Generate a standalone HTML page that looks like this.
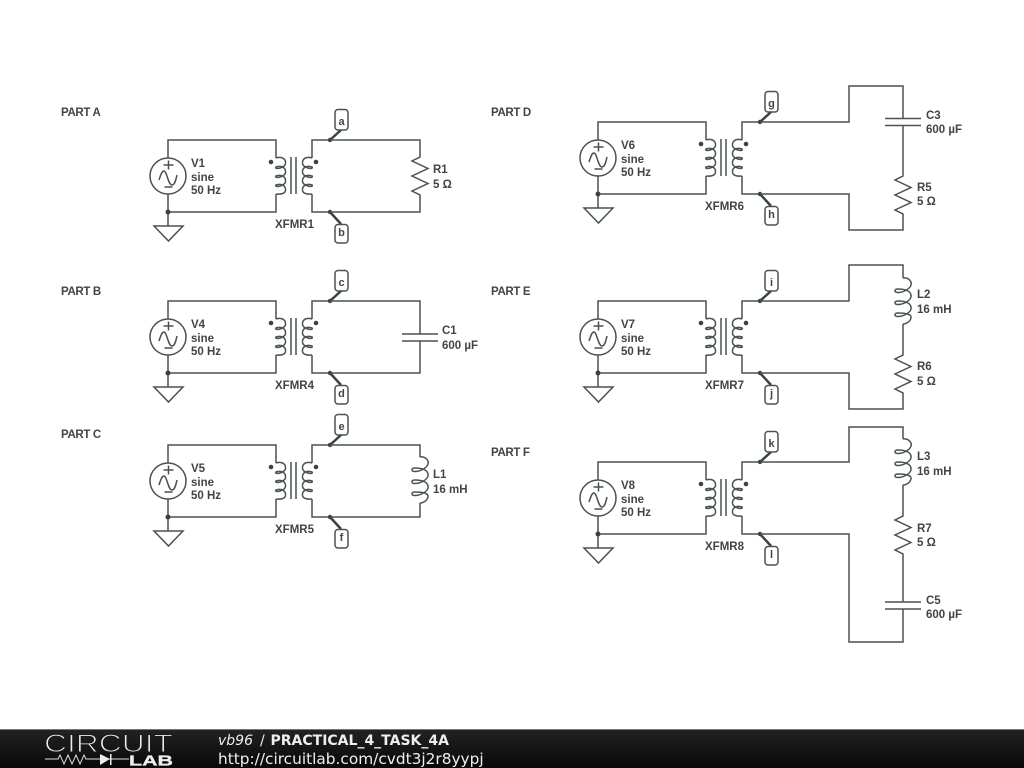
<!DOCTYPE html>
<html><head><meta charset="utf-8"><style>
html,body{margin:0;padding:0;background:#fff;width:1024px;height:768px;overflow:hidden}
svg{display:block}
.w{fill:none;stroke:#4a5254;stroke-width:1.5}
.t text{font:bold 11.500px "Liberation Sans",sans-serif;fill:#444}
.p text{font:bold 11.500px "Liberation Sans",sans-serif;fill:#444;letter-spacing:-.35px}
.n{font:bold 11px "Liberation Sans",sans-serif;fill:#444;text-anchor:middle}
</style></head><body>
<svg width="1024" height="768" viewBox="0 0 1024 768">
<defs>
<linearGradient id="bar" x1="0" y1="0" x2="0" y2="1"><stop offset="0" stop-color="#232323"/><stop offset="1" stop-color="#080808"/></linearGradient>
<g id="res"><path class="w" d="M0 0v2l-8 4l16 7.500l-16 7.500l16 7.500l-16 7.500l8 4v2"/></g>
<g id="ind"><path class="w" d="M0 0C6-1 9 4 8 7C7 11 0 14.500-5 14.500C-9 14.500-9 11-5 11C2 11 9 13 8 19C7 23 0 26.500-5 26.500C-9 26.500-9 23-5 23C2 23 9 25 8 31C7 35 0 38.500-5 38.500C-9 38.500-9 35-5 35C2 35 9 36 8 40C7 44 3 46 0 46"/></g>
<g id="coil"><path class="w" d="M0 0c6-2 10 1 9.500 5.500c-.5 3.500-6 5-8.500 5c-1.500 0-1.500-1.500-1-1.500c6-2 10 1 9.500 5.500c-.5 3.500-6 5-8.500 5c-1.500 0-1.500-1.500-1-1.500c6-2 10 1 9.500 5.500c-.5 3.500-6 5-8.500 5c-1.500 0-1.500-1.500-1-1.500c6-2 10 1 9.500 5.500c-.5 3.500-6 4-9.500 3.500"/></g>
<g id="cap"><path class="w" d="M-18 0h36M-18 7h36"/></g>
<g id="base">
<path class="w" d="M168 158V140H276V158M168 194V212H276V194M168 212V226M154 226H183L168.500 241Z"/>
<circle class="w" cx="168" cy="176" r="18"/>
<path class="w" d="M159 180C161 174 162 171 164 171C167 171 168 185 172 185C175 185 176 179 177 175M168.500 160.500v9M163.500 165h10M164.500 187h8"/>
<circle cx="168" cy="212" r="2.500" fill="#3a4244"/>
<path class="w" d="M291 157V194M296 157V194"/>
<use href="#coil" x="276" y="158"/>
<use href="#coil" transform="translate(312 158) scale(-1 1)"/>
<circle cx="271" cy="162" r="2.300" fill="#3a4244"/>
<circle cx="316" cy="162" r="2.300" fill="#3a4244"/>
<path class="w" d="M312 158V140H330M312 194V212H330"/>
<circle cx="330" cy="140" r="2.200" fill="#3a4244"/>
<circle cx="330" cy="212" r="2.200" fill="#3a4244"/>
<path fill="none" stroke="#3a4244" stroke-width="2.500" d="M330 140L341 130M330 212L341 224"/>
<rect class="w" x="335" y="109.500" width="13" height="20.500" rx="3" fill="#fff"/>
<rect class="w" x="335" y="224.500" width="13" height="18.500" rx="3" fill="#fff"/>
</g>
</defs>

<g class="p">
<text x="61" y="116">PART A</text>
<text x="61" y="295">PART B</text>
<text x="61" y="438">PART C</text>
<text x="491" y="116">PART D</text>
<text x="491" y="295">PART E</text>
<text x="491" y="456">PART F</text>
</g>

<!-- Part A -->
<use href="#base"/>
<path class="w" d="M330 140H420V155M330 212H420V197"/>
<use href="#res" x="420" y="155"/>
<g class="t"><text x="191" y="167">V1</text><text x="191" y="181">sine</text><text x="191" y="194">50 Hz</text><text x="275" y="228">XFMR1</text><text x="433" y="173">R1</text><text x="433" y="188">5 Ω</text></g>
<text class="n" x="341.500" y="125">a</text><text class="n" x="341.500" y="236">b</text>

<!-- Part B -->
<g transform="translate(0 161)"><use href="#base"/>
<path class="w" d="M330 140H420V173M330 212H420V180"/>
<use href="#cap" x="420" y="173"/>
<g class="t"><text x="191" y="167">V4</text><text x="191" y="181">sine</text><text x="191" y="194">50 Hz</text><text x="275" y="228">XFMR4</text><text x="442" y="173">C1</text><text x="442" y="188">600 µF</text></g>
<text class="n" x="341.500" y="125">c</text><text class="n" x="341.500" y="236">d</text></g>

<!-- Part C -->
<g transform="translate(0 305)"><use href="#base"/>
<path class="w" d="M330 140H420V152M330 212H420V198"/>
<use href="#ind" x="420" y="152"/>
<g class="t"><text x="191" y="167">V5</text><text x="191" y="181">sine</text><text x="191" y="194">50 Hz</text><text x="275" y="228">XFMR5</text><text x="433" y="173">L1</text><text x="433" y="188">16 mH</text></g>
<text class="n" x="341.500" y="125">e</text><text class="n" x="341.500" y="236">f</text></g>

<!-- Part D -->
<g transform="translate(430 -18)"><use href="#base"/>
<g class="t"><text x="191" y="167">V6</text><text x="191" y="181">sine</text><text x="191" y="194">50 Hz</text><text x="275" y="228">XFMR6</text></g>
<text class="n" x="341.500" y="125">g</text><text class="n" x="341.500" y="236">h</text></g>
<path class="w" d="M760 122H849V86H903V118.500M903 125.500V174M760 194H849V230H903V216"/>
<use href="#cap" x="903" y="118.500"/>
<use href="#res" x="903" y="174"/>
<g class="t"><text x="926" y="119">C3</text><text x="926" y="133">600 µF</text><text x="917" y="191">R5</text><text x="917" y="205">5 Ω</text></g>

<!-- Part E -->
<g transform="translate(430 161)"><use href="#base"/>
<g class="t"><text x="191" y="167">V7</text><text x="191" y="181">sine</text><text x="191" y="194">50 Hz</text><text x="275" y="228">XFMR7</text></g>
<text class="n" x="341.500" y="125">i</text><text class="n" x="341.500" y="236">j</text></g>
<path class="w" d="M760 301H849V265H903V278M903 324V353M760 373H849V409H903V395"/>
<use href="#ind" x="903" y="278"/>
<use href="#res" x="903" y="353"/>
<g class="t"><text x="917" y="298">L2</text><text x="917" y="313">16 mH</text><text x="917" y="370">R6</text><text x="917" y="385">5 Ω</text></g>

<!-- Part F -->
<g transform="translate(430 322)"><use href="#base"/>
<g class="t"><text x="191" y="167">V8</text><text x="191" y="181">sine</text><text x="191" y="194">50 Hz</text><text x="275" y="228">XFMR8</text></g>
<text class="n" x="341.500" y="125">k</text><text class="n" x="341.500" y="236">l</text></g>
<path class="w" d="M760 462H849V427H903V439M903 485V514M760 534H849V642H903V609M903 556V602"/>
<use href="#ind" x="903" y="439"/>
<use href="#res" x="903" y="514"/>
<use href="#cap" x="903" y="602"/>
<g class="t"><text x="917" y="460">L3</text><text x="917" y="475">16 mH</text><text x="917" y="532">R7</text><text x="917" y="546">5 Ω</text><text x="926" y="604">C5</text><text x="926" y="618">600 µF</text></g>

<!-- Footer -->
<rect x="0" y="729" width="1024" height="39" fill="url(#bar)"/>
<rect x="0" y="729" width="1024" height="1" fill="#777"/>
<text x="44" y="752" font-family="Liberation Sans, sans-serif" font-size="25" fill="#eee" stroke="#1b1b1b" stroke-width="1.100" textLength="129" lengthAdjust="spacingAndGlyphs">CIRCUIT</text>
<path fill="none" stroke="#ddd" stroke-width="1" d="M45 759H58l2-4 4 9 4-9 4 9 4-9 4 9 4-9 2 4H129"/>
<path fill="#eee" d="M100 754L110 759L100 765ZM110 754h1.500v11h-1.500Z"/>
<text x="129" y="765.500" font-family="Liberation Sans, sans-serif" font-weight="bold" font-size="15" fill="#eee" stroke="#eee" stroke-width=".3" textLength="44" lengthAdjust="spacingAndGlyphs">LAB</text>
<text x="218" y="745" font-family="DejaVu Sans, sans-serif" font-size="14" fill="#eee"><tspan font-style="italic">vb96</tspan><tspan x="260"> </tspan><tspan x="260">/</tspan><tspan x="270.500" font-weight="bold">PRACTICAL_4_TASK_4A</tspan></text>
<text x="218" y="764" font-family="DejaVu Sans, sans-serif" font-size="15.350" fill="#eee">http://circuitlab.com/cvdt3j2r8yypj</text>
</svg>
</body></html>
